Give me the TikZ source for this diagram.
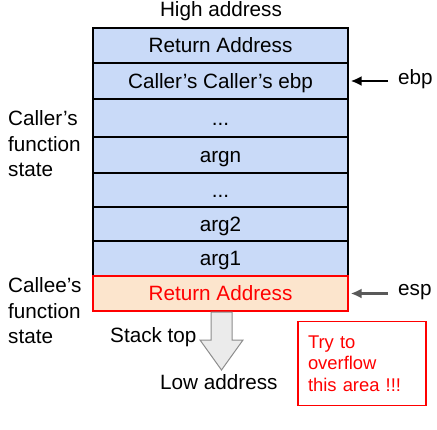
\documentclass[tikz,border=0pt]{standalone}
\usepackage{fontspec}
\setmainfont{Liberation Sans}
\usetikzlibrary{arrows.meta}
\definecolor{rowblue}{HTML}{C9DAF8}
\definecolor{rowpeach}{HTML}{FCE5CD}
\definecolor{overred}{HTML}{FF0000}
\newcommand{\stackdots}{...}
\begin{document}
\begin{tikzpicture}[x=1pt, y=-1pt,
    every node/.style={font=\fontsize{20.7}{25.5}\selectfont, inner sep=0pt},
    cell/.style={draw=black, line width=1.2pt, fill=rowblue, minimum width=255pt,
      text height=14.9pt, text depth=0pt},
    hotcell/.style={cell, draw=overred, fill=rowpeach, text=overred},
    pointer/.style={line width=2.2pt, -{Latex[length=11pt,width=10pt]},
      shorten <=10pt, shorten >=2pt}]
  \useasboundingbox (0,0) rectangle (437,429);

  % Stack frame of the caller
  \foreach \i/\top/\bot/\txt in {1/28/63/Return Address,
    2/63/99/Caller’s Caller’s ebp, 3/99/137/\stackdots, 4/137/173/argn,
    5/173/207/\stackdots, 6/207/241/arg2, 7/241/276/arg1} {
    \node[cell, minimum height={\bot-\top}] (row\i) at (220.5, {(\top+\bot)/2}) {\txt};
  }

  % Return address of the callee
  \node[hotcell, minimum height=35pt] (row8) at (220.5, 293.5) {Return Address};

  % Labels at the top and on the left
  \node (high) at (221, 11) {High address};
  \node[align=left, anchor=west] (caller) at (8, 144) {Caller’s\\function\\state};
  \node[align=left, anchor=west] (callee) at (8, 311) {Callee’s\\function\\state};

  % Register pointers
  \node[anchor=west] (ebp) at (398, 79) {ebp};
  \node[anchor=west] (esp) at (398, 292) {esp};
  \draw[pointer] (ebp.west |- row2.east) -- (row2.east);
  \draw[pointer, draw=black!65, -{Latex[length=11pt,width=10pt,fill=black!65]}]
    (esp.west |- row8.east) -- (row8.east);

  % Growth of the stack
  \draw[draw=black!45, fill=black!8, line width=1pt]
    (211,312) -- (232,312) -- (232,340) -- (243,340) -- (221.5,370)
    -- (200,340) -- (211,340) -- cycle;
  \node[anchor=base west] (stacktop) at (110, 342) {Stack top};
  \node[anchor=base west] (low) at (160, 389) {Low address};

  % Warning box
  \node[draw=overred, line width=1.2pt, text=overred, align=left,
    text width=108pt, inner xsep=10pt, minimum height=84pt,
    font=\fontsize{18.4}{21.5}\selectfont] (warn) at (362, 363.7)
    {Try to\\overflow\\this area !!!};
\end{tikzpicture}
\end{document}
